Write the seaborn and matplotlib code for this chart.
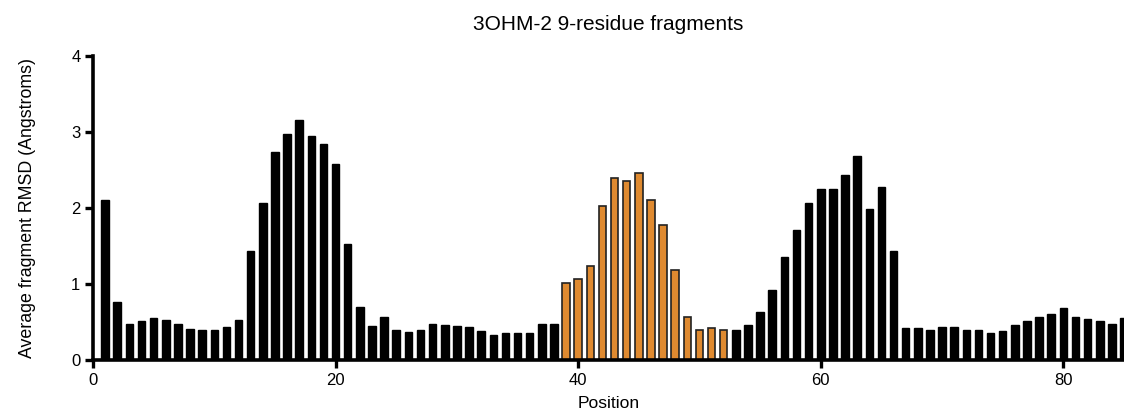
import matplotlib
matplotlib.use("Agg")
import matplotlib.pyplot as plt
import seaborn as sns
import pandas as pd

positions = list(range(1, 86))
rmsd = [2.10, 0.76, 0.47, 0.51, 0.55, 0.52, 0.47, 0.41, 0.39, 0.39,
        0.43, 0.52, 1.44, 2.07, 2.74, 2.97, 3.16, 2.95, 2.84, 2.58,
        1.53, 0.70, 0.45, 0.56, 0.40, 0.37, 0.40, 0.47, 0.46, 0.45,
        0.43, 0.38, 0.33, 0.36, 0.36, 0.35, 0.48, 0.47, 1.01, 1.07,
        1.24, 2.03, 2.40, 2.36, 2.46, 2.11, 1.78, 1.19, 0.56, 0.40,
        0.42, 0.40, 0.39, 0.46, 0.63, 0.92, 1.35, 1.71, 2.07, 2.25,
        2.25, 2.43, 2.69, 1.99, 2.28, 1.44, 0.42, 0.42, 0.40, 0.44,
        0.43, 0.40, 0.39, 0.36, 0.38, 0.46, 0.51, 0.56, 0.61, 0.68,
        0.57, 0.54, 0.51, 0.48, 0.55]
highlighted = list(range(39, 53))
x_ticks = [0, 20, 40, 60, 80]
y_ticks = [0, 1, 2, 3, 4]

title = "3OHM-2 9-residue fragments"
xlabel = "Position"
ylabel = "Average fragment RMSD (Angstroms)"

df = pd.DataFrame({"pos": positions, "rmsd": rmsd})
df["hl"] = df["pos"].isin(highlighted)

sns.set_style("ticks")
plt.rcParams["font.family"] = ["Liberation Sans", "DejaVu Sans"]
plt.rcParams["text.color"] = "black"
plt.rcParams["axes.labelcolor"] = "black"

fig = plt.figure(figsize=(11.24, 4.11), dpi=100)
ax = fig.add_axes([93 / 1124, 1 - 360 / 411, 1 - 93 / 1124, (360 - 56) / 411])

sns.barplot(data=df[~df["hl"]], x="pos", y="rmsd", native_scale=True,
            color="black", edgecolor="black", linewidth=1, width=0.62,
            saturation=1, ax=ax, errorbar=None)
sns.barplot(data=df[df["hl"]], x="pos", y="rmsd", native_scale=True,
            color="#DF8A30", edgecolor="#222222", linewidth=1.2, width=0.62,
            saturation=1, ax=ax, errorbar=None)

ax.set_xlim(0, 85)
ax.set_ylim(0, 4)
ax.set_xticks(x_ticks)
ax.set_xticklabels([str(t) for t in x_ticks])
ax.set_yticks(y_ticks)
ax.set_yticklabels([str(t) for t in y_ticks])
for s in ["top", "right"]:
    ax.spines[s].set_visible(False)
for s in ["left", "bottom"]:
    ax.spines[s].set_linewidth(2.6)
    ax.spines[s].set_color("black")
ax.tick_params(axis="both", direction="out", length=6, width=2.4,
               labelsize=12, colors="black", labelcolor="black", pad=3)
ax.set_xlabel(xlabel, fontsize=12.6, labelpad=6, color="black")
ax.set_ylabel(ylabel, fontsize=12.8, labelpad=25, color="black")
ax.set_title(title, fontsize=15, pad=19, color="black")

fig.savefig("out.png", dpi=100)
